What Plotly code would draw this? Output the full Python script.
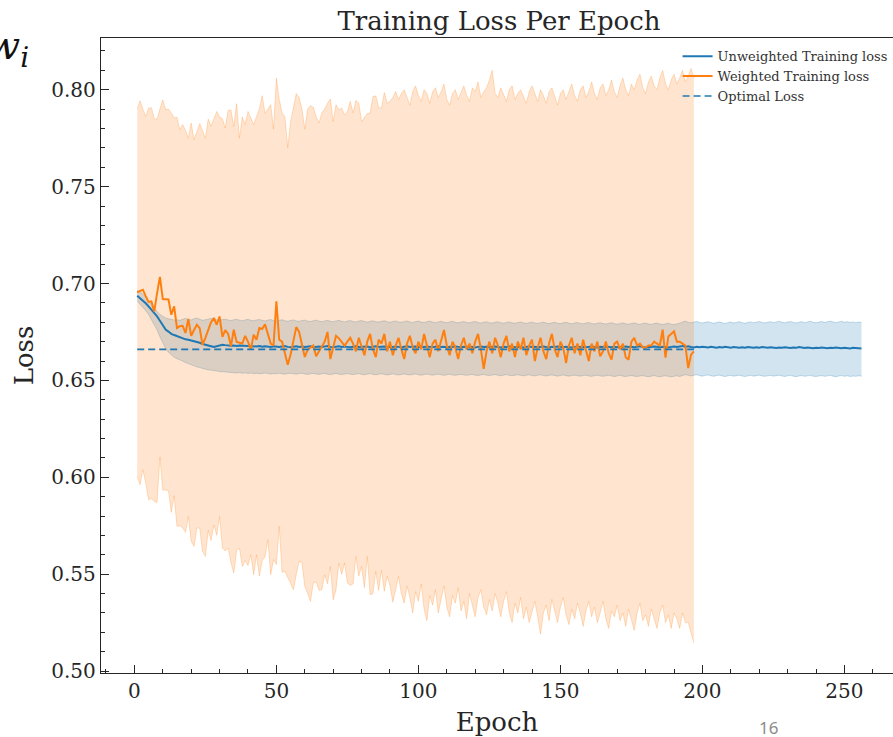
import plotly.graph_objects as go

# ---------------- data ----------------
orange_mean = [
    0.6955, 0.6962, 0.6968, 0.6935, 0.6905, 0.6908, 0.6856, 0.6950, 0.7034, 0.6920,
    0.6920, 0.6918, 0.6839, 0.6882, 0.6770, 0.6780, 0.6782, 0.6745, 0.6817, 0.6730,
    0.6760, 0.6787, 0.6770, 0.6684, 0.6720, 0.6762, 0.6800, 0.6822, 0.6787, 0.6830,
    0.6725, 0.6760, 0.6740, 0.6676, 0.6762, 0.6698, 0.6694, 0.6690, 0.6730, 0.6700,
    0.6658, 0.6736, 0.6710, 0.6770, 0.6765, 0.6790, 0.6740, 0.6690, 0.6680, 0.6908,
    0.6710, 0.6700, 0.6640, 0.6581, 0.6633, 0.6700, 0.6775, 0.6750, 0.6690, 0.6621,
    0.6658, 0.6670, 0.6680, 0.6625, 0.6650, 0.6668, 0.6700, 0.6750, 0.6610, 0.6670,
    0.6730, 0.6717, 0.6700, 0.6680, 0.6700, 0.6720, 0.6690, 0.6650, 0.6720, 0.6680,
    0.6630, 0.6700, 0.6740, 0.6660, 0.6620, 0.6710, 0.6690, 0.6740, 0.6650, 0.6700,
    0.6630, 0.6680, 0.6720, 0.6660, 0.6610, 0.6690, 0.6730, 0.6670, 0.6640, 0.6700,
    0.6660, 0.6740, 0.6680, 0.6620, 0.6690, 0.6710, 0.6650, 0.6700, 0.6760, 0.6680,
    0.6630, 0.6700, 0.6670, 0.6610, 0.6680, 0.6720, 0.6660, 0.6690, 0.6640, 0.6700,
    0.6740, 0.6660, 0.6560, 0.6650, 0.6700, 0.6640, 0.6720, 0.6680, 0.6620, 0.6690,
    0.6730, 0.6650, 0.6690, 0.6620, 0.6700, 0.6660, 0.6720, 0.6630, 0.6680, 0.6710,
    0.6600, 0.6670, 0.6720, 0.6650, 0.6610, 0.6690, 0.6740, 0.6660, 0.6620, 0.6700,
    0.6670, 0.6590, 0.6680, 0.6720, 0.6640, 0.6690, 0.6630, 0.6710, 0.6660, 0.6600,
    0.6690, 0.6650, 0.6700, 0.6624, 0.6650, 0.6701, 0.6640, 0.6607, 0.6690, 0.6700,
    0.6660, 0.6690, 0.6620, 0.6607, 0.6700, 0.6719, 0.6680, 0.6690, 0.6670, 0.6670,
    0.6680, 0.6680, 0.6700, 0.6690, 0.6680, 0.6762, 0.6617, 0.6727, 0.6740, 0.6753,
    0.6700, 0.6700, 0.6690, 0.6680, 0.6564, 0.6633, 0.6650,
]
orange_upper = [
    0.7900, 0.7943, 0.7900, 0.7862, 0.7905, 0.7907, 0.7850, 0.7848, 0.7900, 0.7948,
    0.7897, 0.7900, 0.7880, 0.7854, 0.7858, 0.7794, 0.7820, 0.7790, 0.7750, 0.7828,
    0.7742, 0.7790, 0.7825, 0.7790, 0.7750, 0.7849, 0.7811, 0.7850, 0.7888, 0.7860,
    0.7850, 0.7802, 0.7893, 0.7895, 0.7810, 0.7928, 0.7750, 0.7860, 0.7820, 0.7888,
    0.7850, 0.7820, 0.7860, 0.7900, 0.7969, 0.7878, 0.7900, 0.7923, 0.7797, 0.8060,
    0.7950, 0.7880, 0.7860, 0.7700, 0.7836, 0.7900, 0.7980, 0.7960, 0.7900, 0.7797,
    0.7900, 0.7917, 0.7910, 0.7860, 0.7828, 0.7880, 0.7900, 0.7930, 0.7952, 0.7836,
    0.7923, 0.7897, 0.7905, 0.7870, 0.7885, 0.7940, 0.7880, 0.7945, 0.7930, 0.7836,
    0.7860, 0.7877, 0.7880, 0.7966, 0.7968, 0.7910, 0.7905, 0.7986, 0.7930, 0.7940,
    0.7960, 0.7991, 0.7950, 0.7980, 0.8000, 0.7960, 0.7920, 0.7990, 0.8020, 0.7970,
    0.7940, 0.8000, 0.7980, 0.7930, 0.7990, 0.8010, 0.7960, 0.7990, 0.8030, 0.7950,
    0.7920, 0.7980, 0.8000, 0.7950, 0.7990, 0.8020, 0.7970, 0.7940, 0.8010, 0.7990,
    0.8040, 0.7960, 0.7990, 0.8010, 0.8050, 0.8100, 0.7980, 0.7960, 0.8010, 0.7970,
    0.7940, 0.8000, 0.8020, 0.7950, 0.7980, 0.8000, 0.7960, 0.7930, 0.7990, 0.8020,
    0.7980, 0.7940, 0.8000, 0.7970, 0.7930, 0.7990, 0.8010, 0.7960, 0.7920, 0.7980,
    0.8000, 0.7950, 0.7990, 0.8030, 0.7970, 0.7940, 0.8000, 0.8020, 0.7960, 0.7990,
    0.8040, 0.7980, 0.7950, 0.8010, 0.8030, 0.7970, 0.8000, 0.8050, 0.7990, 0.7960,
    0.8020, 0.8060, 0.8000, 0.7970, 0.8030, 0.8000, 0.8050, 0.8080, 0.8010, 0.7980,
    0.8040, 0.8070, 0.8020, 0.8000, 0.8060, 0.8100, 0.8030, 0.8000, 0.8050, 0.8080,
    0.8030, 0.8060, 0.8100, 0.8040, 0.8070, 0.8110, 0.8060,
]
orange_lower = [
    0.6005, 0.5962, 0.6039, 0.5971, 0.5884, 0.5890, 0.5875, 0.5871, 0.6105, 0.5933,
    0.5935, 0.5930, 0.5819, 0.5905, 0.5747, 0.5750, 0.5740, 0.5716, 0.5798, 0.5670,
    0.5643, 0.5738, 0.5738, 0.5618, 0.5592, 0.5727, 0.5674, 0.5754, 0.5700, 0.5798,
    0.5635, 0.5620, 0.5635, 0.5560, 0.5506, 0.5620, 0.5635, 0.5540, 0.5570, 0.5545,
    0.5600, 0.5497, 0.5600, 0.5490, 0.5570, 0.5590, 0.5678, 0.5497, 0.5575, 0.5550,
    0.5747, 0.5510, 0.5515, 0.5480, 0.5446, 0.5420, 0.5500, 0.5566, 0.5560, 0.5437,
    0.5400, 0.5360, 0.5455, 0.5460, 0.5417, 0.5420, 0.5497, 0.5450, 0.5540, 0.5368,
    0.5420, 0.5558, 0.5500, 0.5558, 0.5455, 0.5443, 0.5450, 0.5592, 0.5490, 0.5540,
    0.5430, 0.5592, 0.5394, 0.5400, 0.5515, 0.5417, 0.5520, 0.5412, 0.5490, 0.5440,
    0.5355, 0.5420, 0.5488, 0.5400, 0.5350, 0.5440, 0.5380, 0.5300, 0.5410, 0.5360,
    0.5450, 0.5320, 0.5260, 0.5390, 0.5340, 0.5420, 0.5300, 0.5370, 0.5440, 0.5330,
    0.5280, 0.5390, 0.5350, 0.5430, 0.5310, 0.5360, 0.5270, 0.5400, 0.5340, 0.5280,
    0.5380, 0.5420, 0.5330, 0.5290, 0.5370, 0.5310, 0.5400, 0.5350, 0.5280, 0.5360,
    0.5410, 0.5300, 0.5250, 0.5350, 0.5300, 0.5380, 0.5270, 0.5330, 0.5250, 0.5300,
    0.5360, 0.5280, 0.5190, 0.5300, 0.5340, 0.5260, 0.5370, 0.5310, 0.5250, 0.5330,
    0.5380, 0.5290, 0.5240, 0.5320, 0.5270, 0.5350, 0.5300, 0.5230, 0.5310, 0.5360,
    0.5280, 0.5330, 0.5250, 0.5300, 0.5360, 0.5270, 0.5220, 0.5310, 0.5280, 0.5340,
    0.5260, 0.5300, 0.5230, 0.5320, 0.5270, 0.5210, 0.5300, 0.5350, 0.5260, 0.5290,
    0.5230, 0.5320, 0.5270, 0.5220, 0.5300, 0.5340, 0.5250, 0.5290, 0.5220, 0.5300,
    0.5270, 0.5220, 0.5300, 0.5250, 0.5250, 0.5190, 0.5145,
]
blue_mean = [
    0.6937, 0.6925, 0.6912, 0.6898, 0.6882, 0.6865, 0.6848, 0.6830, 0.6808, 0.6785,
    0.6762, 0.6752, 0.6740, 0.6734, 0.6728, 0.6720, 0.6714, 0.6712, 0.6710, 0.6706,
    0.6704, 0.6700, 0.6694, 0.6688, 0.6685, 0.6680, 0.6676, 0.6672, 0.6675, 0.6680,
    0.6684, 0.6682, 0.6680, 0.6679, 0.6680, 0.6678, 0.6680, 0.6679, 0.6677, 0.6676,
    0.6678, 0.6676, 0.6675, 0.6677, 0.6674, 0.6676, 0.6675, 0.6673, 0.6676, 0.6674,
    0.6672, 0.6675, 0.6677, 0.6673, 0.6671, 0.6674, 0.6676, 0.6673, 0.6675, 0.6672,
    0.6674, 0.6676, 0.6671, 0.6673, 0.6675, 0.6672, 0.6674, 0.6677, 0.6673, 0.6671,
    0.6674, 0.6676, 0.6672, 0.6675, 0.6673, 0.6671, 0.6674, 0.6676, 0.6672, 0.6674,
    0.6673, 0.6675, 0.6671, 0.6674, 0.6676, 0.6672, 0.6673, 0.6675, 0.6671, 0.6674,
    0.6672, 0.6675, 0.6673, 0.6670, 0.6674, 0.6676, 0.6672, 0.6673, 0.6675, 0.6671,
    0.6674, 0.6672, 0.6675, 0.6673, 0.6671, 0.6674, 0.6676, 0.6672, 0.6673, 0.6670,
    0.6674, 0.6672, 0.6675, 0.6673, 0.6671, 0.6674, 0.6672, 0.6675, 0.6673, 0.6670,
    0.6673, 0.6675, 0.6672, 0.6674, 0.6671, 0.6673, 0.6675, 0.6672, 0.6670, 0.6674,
    0.6672, 0.6675, 0.6673, 0.6671, 0.6674, 0.6672, 0.6670, 0.6673, 0.6675, 0.6672,
    0.6674, 0.6671, 0.6673, 0.6675, 0.6672, 0.6670, 0.6674, 0.6672, 0.6675, 0.6673,
    0.6671, 0.6674, 0.6672, 0.6670, 0.6673, 0.6675, 0.6672, 0.6674, 0.6671, 0.6673,
    0.6675, 0.6672, 0.6670, 0.6674, 0.6672, 0.6675, 0.6673, 0.6671, 0.6674, 0.6672,
    0.6670, 0.6673, 0.6675, 0.6672, 0.6674, 0.6671, 0.6673, 0.6676, 0.6672, 0.6670,
    0.6674, 0.6672, 0.6675, 0.6673, 0.6671, 0.6674, 0.6672, 0.6670, 0.6673, 0.6675,
    0.6672, 0.6674, 0.6678, 0.6673, 0.6676, 0.6672, 0.6670, 0.6673, 0.6671, 0.6674,
    0.6672, 0.6670, 0.6673, 0.6671, 0.6669, 0.6672, 0.6670, 0.6673, 0.6671, 0.6669,
    0.6672, 0.6670, 0.6668, 0.6671, 0.6669, 0.6672, 0.6670, 0.6668, 0.6671, 0.6669,
    0.6672, 0.6670, 0.6668, 0.6671, 0.6669, 0.6667, 0.6670, 0.6668, 0.6671, 0.6669,
    0.6667, 0.6670, 0.6668, 0.6672, 0.6669, 0.6667, 0.6670, 0.6668, 0.6666, 0.6669,
    0.6667, 0.6670, 0.6668, 0.6666, 0.6669, 0.6667, 0.6670, 0.6668, 0.6666, 0.6669,
    0.6667, 0.6665, 0.6668, 0.6666, 0.6667, 0.6665,
]
blue_upper = [
    0.6965, 0.6955, 0.6945, 0.6930, 0.6910, 0.6890, 0.6870, 0.6855, 0.6840, 0.6830,
    0.6822, 0.6818, 0.6815, 0.6812, 0.6813, 0.6810, 0.6815, 0.6820, 0.6814, 0.6812,
    0.6818, 0.6822, 0.6815, 0.6810, 0.6813, 0.6818, 0.6820, 0.6815, 0.6812, 0.6810,
    0.6814, 0.6816, 0.6812, 0.6809, 0.6813, 0.6815, 0.6811, 0.6808, 0.6812, 0.6815,
    0.6810, 0.6808, 0.6812, 0.6814, 0.6810, 0.6807, 0.6811, 0.6814, 0.6809, 0.6806,
    0.6810, 0.6813, 0.6808, 0.6805, 0.6809, 0.6812, 0.6807, 0.6805, 0.6809, 0.6811,
    0.6806, 0.6804, 0.6808, 0.6811, 0.6806, 0.6803, 0.6807, 0.6810, 0.6805, 0.6803,
    0.6807, 0.6810, 0.6805, 0.6802, 0.6806, 0.6809, 0.6804, 0.6802, 0.6806, 0.6809,
    0.6804, 0.6801, 0.6805, 0.6808, 0.6803, 0.6801, 0.6805, 0.6808, 0.6803, 0.6800,
    0.6804, 0.6807, 0.6802, 0.6800, 0.6804, 0.6807, 0.6802, 0.6799, 0.6803, 0.6806,
    0.6801, 0.6799, 0.6803, 0.6806, 0.6801, 0.6798, 0.6802, 0.6805, 0.6800, 0.6798,
    0.6802, 0.6805, 0.6800, 0.6797, 0.6801, 0.6804, 0.6799, 0.6797, 0.6801, 0.6804,
    0.6799, 0.6796, 0.6800, 0.6803, 0.6798, 0.6796, 0.6800, 0.6803, 0.6798, 0.6795,
    0.6799, 0.6802, 0.6797, 0.6795, 0.6799, 0.6802, 0.6797, 0.6794, 0.6798, 0.6801,
    0.6796, 0.6794, 0.6798, 0.6801, 0.6796, 0.6793, 0.6797, 0.6800, 0.6795, 0.6793,
    0.6797, 0.6800, 0.6795, 0.6792, 0.6796, 0.6799, 0.6794, 0.6792, 0.6796, 0.6799,
    0.6794, 0.6791, 0.6795, 0.6798, 0.6793, 0.6791, 0.6795, 0.6798, 0.6793, 0.6790,
    0.6794, 0.6797, 0.6792, 0.6790, 0.6794, 0.6797, 0.6792, 0.6789, 0.6793, 0.6796,
    0.6791, 0.6789, 0.6793, 0.6796, 0.6791, 0.6788, 0.6792, 0.6795, 0.6790, 0.6788,
    0.6792, 0.6795, 0.6802, 0.6806, 0.6800, 0.6797, 0.6801, 0.6804, 0.6799, 0.6796,
    0.6800, 0.6803, 0.6798, 0.6795, 0.6799, 0.6802, 0.6797, 0.6794, 0.6798, 0.6801,
    0.6796, 0.6799, 0.6803, 0.6798, 0.6795, 0.6799, 0.6802, 0.6797, 0.6800, 0.6804,
    0.6799, 0.6796, 0.6800, 0.6803, 0.6798, 0.6801, 0.6805, 0.6800, 0.6797, 0.6801,
    0.6804, 0.6799, 0.6796, 0.6800, 0.6803, 0.6798, 0.6801, 0.6805, 0.6800, 0.6797,
    0.6801, 0.6804, 0.6799, 0.6802, 0.6806, 0.6801, 0.6798, 0.6802, 0.6805, 0.6800,
    0.6803, 0.6799, 0.6802, 0.6798, 0.6801, 0.6799,
]
blue_lower = [
    0.6910, 0.6895, 0.6878, 0.6860, 0.6840, 0.6815, 0.6790, 0.6760, 0.6725, 0.6690,
    0.6665, 0.6645, 0.6630, 0.6620, 0.6612, 0.6607, 0.6600, 0.6592, 0.6585, 0.6580,
    0.6575, 0.6570, 0.6565, 0.6561, 0.6558, 0.6555, 0.6552, 0.6550, 0.6548, 0.6546,
    0.6545, 0.6543, 0.6542, 0.6541, 0.6540, 0.6538, 0.6540, 0.6537, 0.6539, 0.6536,
    0.6538, 0.6535, 0.6537, 0.6534, 0.6536, 0.6538, 0.6535, 0.6533, 0.6536, 0.6534,
    0.6537, 0.6535, 0.6532, 0.6535, 0.6537, 0.6534, 0.6532, 0.6535, 0.6537, 0.6533,
    0.6531, 0.6534, 0.6536, 0.6533, 0.6531, 0.6534, 0.6536, 0.6532, 0.6530, 0.6533,
    0.6536, 0.6532, 0.6530, 0.6533, 0.6535, 0.6532, 0.6530, 0.6533, 0.6535, 0.6531,
    0.6529, 0.6532, 0.6535, 0.6531, 0.6529, 0.6532, 0.6534, 0.6531, 0.6528, 0.6531,
    0.6534, 0.6530, 0.6528, 0.6531, 0.6533, 0.6530, 0.6528, 0.6531, 0.6533, 0.6529,
    0.6527, 0.6530, 0.6533, 0.6529, 0.6527, 0.6530, 0.6532, 0.6529, 0.6526, 0.6529,
    0.6532, 0.6528, 0.6526, 0.6529, 0.6531, 0.6528, 0.6526, 0.6529, 0.6531, 0.6527,
    0.6525, 0.6528, 0.6531, 0.6527, 0.6525, 0.6528, 0.6530, 0.6527, 0.6524, 0.6527,
    0.6530, 0.6526, 0.6524, 0.6527, 0.6529, 0.6526, 0.6524, 0.6527, 0.6529, 0.6525,
    0.6523, 0.6526, 0.6529, 0.6525, 0.6523, 0.6526, 0.6528, 0.6525, 0.6522, 0.6525,
    0.6528, 0.6524, 0.6522, 0.6525, 0.6527, 0.6524, 0.6522, 0.6525, 0.6527, 0.6523,
    0.6521, 0.6524, 0.6527, 0.6523, 0.6521, 0.6524, 0.6526, 0.6523, 0.6520, 0.6523,
    0.6526, 0.6522, 0.6520, 0.6523, 0.6525, 0.6522, 0.6520, 0.6523, 0.6525, 0.6521,
    0.6519, 0.6522, 0.6525, 0.6521, 0.6519, 0.6522, 0.6524, 0.6521, 0.6518, 0.6521,
    0.6524, 0.6520, 0.6527, 0.6530, 0.6526, 0.6523, 0.6527, 0.6529, 0.6525, 0.6522,
    0.6526, 0.6528, 0.6524, 0.6521, 0.6525, 0.6527, 0.6523, 0.6520, 0.6524, 0.6526,
    0.6522, 0.6525, 0.6527, 0.6523, 0.6520, 0.6524, 0.6526, 0.6522, 0.6525, 0.6527,
    0.6523, 0.6521, 0.6524, 0.6526, 0.6522, 0.6525, 0.6527, 0.6523, 0.6520, 0.6524,
    0.6526, 0.6522, 0.6519, 0.6523, 0.6525, 0.6521, 0.6524, 0.6526, 0.6522, 0.6520,
    0.6523, 0.6525, 0.6521, 0.6524, 0.6526, 0.6522, 0.6519, 0.6523, 0.6525, 0.6521,
    0.6524, 0.6520, 0.6523, 0.6521, 0.6524, 0.6522,
]
optimal_loss = 0.6660
x_tick_labels = ["0", "50", "100", "150", "200", "250"]
x_tick_vals = [0, 50, 100, 150, 200, 250]
y_tick_vals = [0.50, 0.55, 0.60, 0.65, 0.70, 0.75, 0.80]
y_tick_labels = ["0.50", "0.55", "0.60", "0.65", "0.70", "0.75", "0.80"]

# ---------------- figure ----------------
BLUE = "#1f77b4"
ORANGE = "#ff7f0e"
SERIF = "DejaVu Serif"
INK = "#262626"

ep_o = list(range(1, len(orange_mean) + 1))
ep_ou = list(range(1, len(orange_upper) + 1))
ep_ol = list(range(1, len(orange_lower) + 1))
ep_b = list(range(1, len(blue_mean) + 1))
ep_bu = list(range(1, len(blue_upper) + 1))
ep_bl = list(range(1, len(blue_lower) + 1))

fig = go.Figure()

# blue band
fig.add_trace(go.Scatter(x=ep_bl, y=blue_lower, mode="lines",
                         line=dict(color="rgba(31,119,180,0.25)", width=1),
                         showlegend=False, hoverinfo="skip"))
fig.add_trace(go.Scatter(x=ep_bu, y=blue_upper, mode="lines", fill="tonexty",
                         fillcolor="rgba(31,119,180,0.2)",
                         line=dict(color="rgba(31,119,180,0.25)", width=1),
                         showlegend=False, hoverinfo="skip"))
# orange band
fig.add_trace(go.Scatter(x=ep_ol, y=orange_lower, mode="lines",
                         line=dict(color="rgba(255,127,14,0.25)", width=1),
                         showlegend=False, hoverinfo="skip"))
fig.add_trace(go.Scatter(x=ep_ou, y=orange_upper, mode="lines", fill="tonexty",
                         fillcolor="rgba(255,127,14,0.2)",
                         line=dict(color="rgba(255,127,14,0.25)", width=1),
                         showlegend=False, hoverinfo="skip"))

fig.add_trace(go.Scatter(x=ep_b, y=blue_mean, mode="lines", name="Unweighted Training loss",
                         line=dict(color=BLUE, width=2)))
fig.add_trace(go.Scatter(x=ep_o, y=orange_mean, mode="lines", name="Weighted Training loss",
                         line=dict(color=ORANGE, width=2)))
fig.add_trace(go.Scatter(x=[ep_o[0], ep_o[-1]], y=[optimal_loss, optimal_loss], mode="lines",
                         name="Optimal Loss",
                         line=dict(color=BLUE, width=1.6, dash="7px,4px")))

axis_common = dict(showgrid=False, zeroline=False, showline=True, linecolor=INK,
                   linewidth=1.4, ticks="inside", ticklen=8, tickwidth=1.2,
                   tickcolor=INK,
                   tickfont=dict(family=SERIF, size=20, color=INK))

fig.update_layout(
    width=893, height=737,
    margin=dict(l=101, r=0, t=38, b=64),
    paper_bgcolor="white", plot_bgcolor="white",
    title=dict(text="Training Loss Per Epoch", x=0.5025, xref="paper", xanchor="center",
               y=0.972, yref="container", yanchor="middle",
               font=dict(family=SERIF, size=26, color=INK)),
    showlegend=True,
    legend=dict(x=0.728, y=0.995, xanchor="left", yanchor="top",
                bgcolor="rgba(0,0,0,0)", borderwidth=0, traceorder="normal",
                font=dict(family=SERIF, size=13, color="#333333"),
                tracegroupgap=0, itemwidth=30),
)
fig.update_xaxes(**axis_common, range=[-11.75, 267.1], tickvals=x_tick_vals,
                 ticktext=x_tick_labels, mirror=True,
                 minor=dict(dtick=10, tick0=0, ticks="inside", ticklen=4,
                            tickwidth=1, tickcolor=INK),
                 title=dict(text="Epoch", font=dict(family=SERIF, size=26, color=INK),
                            standoff=12))
fig.update_yaxes(**axis_common, range=[0.4990, 0.8267], tickvals=y_tick_vals,
                 ticktext=y_tick_labels, mirror=False,
                 minor=dict(dtick=0.01, tick0=0.5, ticks="inside", ticklen=4,
                            tickwidth=1, tickcolor=INK),
                 title=dict(text="Loss", font=dict(family=SERIF, size=26, color=INK),
                            standoff=10))

# cropped slide symbol at top-left and slide number
fig.add_annotation(text="<i>w</i><sub><i>i</i></sub>", xref="paper", yref="paper",
                   x=-0.088, y=0.985, xanchor="right", yanchor="middle", showarrow=False,
                   font=dict(family=SERIF, size=40, color="#111111"))
fig.add_annotation(text="16", xref="paper", yref="paper",
                   x=(768 - 101) / 792, y=-(727 - 673) / 635, xanchor="center",
                   yanchor="middle", showarrow=False,
                   font=dict(family="Noto Sans", size=17, color="#8c8c8c"))

fig.write_html("out.html")
